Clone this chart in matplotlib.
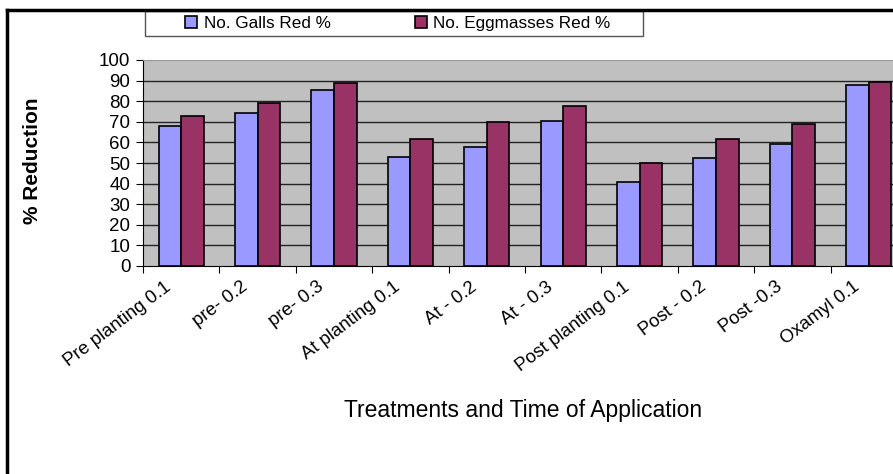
import matplotlib.pyplot as plt
import numpy as np
from matplotlib.lines import Line2D
from matplotlib.patches import Rectangle

plt.rcParams['font.family'] = ['Liberation Sans', 'DejaVu Sans']

categories = ['Pre planting 0.1', 'pre- 0.2', 'pre- 0.3', 'At planting 0.1', 'At - 0.2',
              'At - 0.3', 'Post planting 0.1', 'Post - 0.2', 'Post -0.3', 'Oxamyl 0.1']
galls_red = [68, 74.5, 85.5, 53, 57.7, 70.4, 41, 52.2, 59.3, 88]
eggmasses_red = [72.8, 79.2, 88.8, 61.6, 69.8, 77.6, 49.8, 61.6, 69, 89.4]
yticks = list(range(0, 101, 10))

W, H = 893, 474
fig = plt.figure(figsize=(W / 100, H / 100), dpi=100)
ax = fig.add_axes([143 / W, 1 - 266 / H, (907 - 143) / W, (266 - 60) / H])

x = np.arange(len(categories))
bw = 0.295
ax.bar(x - bw / 2, galls_red, bw, color='#9999FF', edgecolor='black', linewidth=1.2,
       label='No. Galls Red %', zorder=3)
ax.bar(x + bw / 2, eggmasses_red, bw, color='#993366', edgecolor='black', linewidth=1.2,
       label='No. Eggmasses Red %', zorder=3)

ax.set_facecolor('#C0C0C0')
ax.set_xlim(-0.5, len(categories) - 0.5)
ax.set_ylim(0, 100)
ax.set_yticks(yticks)
ax.tick_params(axis='y', labelsize=13.5, length=5, direction='out', pad=4)
for v in yticks[1:-1]:
    ax.axhline(v, color='#222222', linewidth=1.0, zorder=1)

# category separators as ticks, labels drawn separately
ax.set_xticks(np.arange(len(categories) + 1) - 0.5)
ax.set_xticklabels([])
ax.tick_params(axis='x', length=5, direction='out')
for i, lab in enumerate(categories):
    ax.text(i - 0.22, -6, lab, rotation=37, ha='right', va='top', rotation_mode='anchor',
            fontsize=13.3)

ax.spines['right'].set_visible(False)
ax.spines['top'].set_color('#999999')
ax.spines['left'].set_color('black')
ax.spines['bottom'].set_color('black')

fig.text(523 / W, 1 - 410 / H, 'Treatments and Time of Application', ha='center', va='center',
         fontsize=16.5)
fig.text(32 / W, 1 - 161 / H, '% Reduction', rotation=90, ha='center', va='center',
         fontsize=15, fontweight='bold')

leg = fig.legend(loc='center', bbox_to_anchor=(398 / W, 1 - 23.5 / H), ncol=2,
                 fontsize=12.3, frameon=False, handlelength=0.7,
                 handleheight=0.7, handletextpad=0.4, columnspacing=4.9,
                 borderpad=0.2, borderaxespad=0)
fig.add_artist(Rectangle((145 / W, 1 - 36 / H), 498 / W, 25 / H, transform=fig.transFigure,
                         facecolor='none', edgecolor='#555555', linewidth=1.0))

fig.add_artist(Line2D([7 / W, 1], [1 - 10 / H, 1 - 10 / H], color='black', linewidth=2.5,
                      transform=fig.transFigure))
fig.add_artist(Line2D([7 / W, 7 / W], [0, 1 - 10 / H], color='black', linewidth=2.5,
                      transform=fig.transFigure))

fig.savefig('out.png', dpi=100)
